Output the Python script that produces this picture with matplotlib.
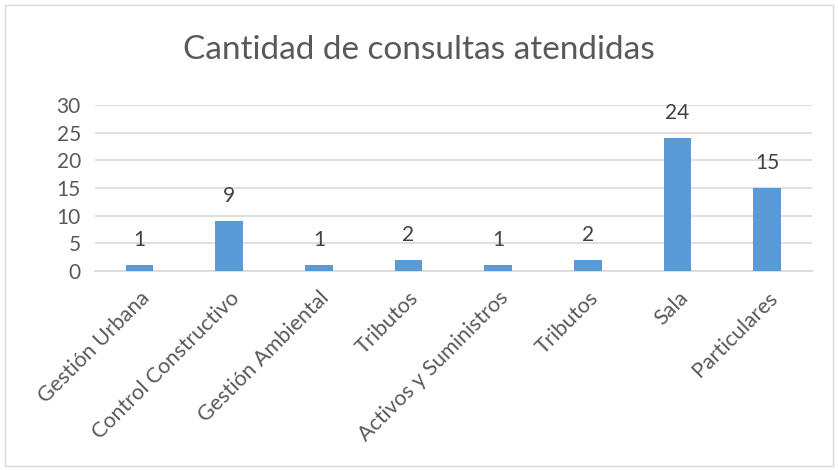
import matplotlib.pyplot as plt
from matplotlib.patches import Rectangle

categorias = ['Gestión Urbana', 'Control Constructivo', 'Gestión Ambiental', 'Tributos',
              'Activos y Suministros', 'Tributos', 'Sala', 'Particulares']
consultas = [1, 9, 1, 2, 1, 2, 24, 15]

plt.rcParams['font.family'] = ['Lato', 'DejaVu Sans']
gris = '#595959'

fig = plt.figure(figsize=(8.38, 4.70), dpi=100)
ax = fig.add_axes([0.113, 0.4234, 0.856, 0.3532])

# marco del gráfico
fig.patches.append(Rectangle((0.006, 0.008), 0.988, 0.982, transform=fig.transFigure,
                             fill=False, edgecolor='#d9d9d9', linewidth=1))

x = list(range(len(categorias)))
barras = ax.bar(x, consultas, width=0.31, color='#5b9bd5', zorder=3)
ax.bar_label(barras, padding=11, fontsize=15, color='#404040')

ax.set_xlim(-0.5, len(categorias) - 0.5)
ax.set_ylim(0, 30)
ax.set_yticks(range(0, 31, 5))
ax.yaxis.grid(True, color='#d9d9d9', linewidth=1.2, zorder=0)
for s in ['top', 'right', 'left']:
    ax.spines[s].set_visible(False)
ax.spines['bottom'].set_color('#d9d9d9')
ax.spines['bottom'].set_linewidth(1.2)
ax.tick_params(axis='both', length=0, colors=gris, labelsize=15)
ax.tick_params(axis='y', pad=10)
ax.tick_params(axis='x', pad=12, labelsize=15.5)
ax.set_xticks(x)
ax.set_xticklabels(categorias, rotation=45, ha='right', rotation_mode='anchor')

fig.text(0.5, 0.893, 'Cantidad de consultas atendidas', ha='center', va='center',
         fontsize=24, color=gris)

plt.savefig('out.png')
